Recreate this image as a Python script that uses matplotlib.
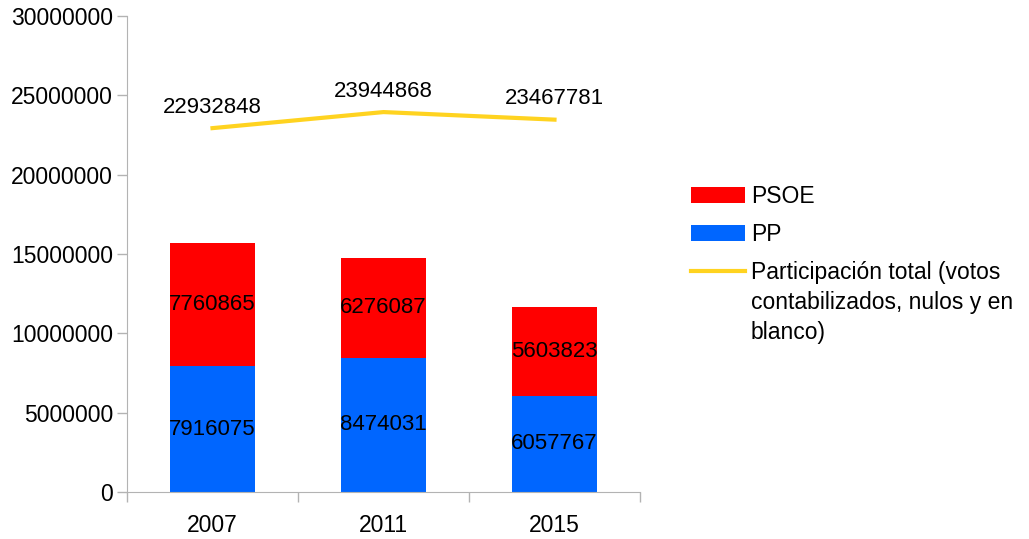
import matplotlib.pyplot as plt
from matplotlib.ticker import FuncFormatter

years = ['2007', '2011', '2015']
pp = [7916075, 8474031, 6057767]
psoe = [7760865, 6276087, 5603823]
participacion = [22932848, 23944868, 23467781]

plt.rcParams['font.family'] = ['Liberation Sans', 'DejaVu Sans']
plt.rcParams['font.size'] = 16

fig = plt.figure(figsize=(10.29, 5.39), dpi=100)
ax = fig.add_axes([127 / 1029, 47 / 539, 513 / 1029, 476 / 539])

x = range(len(years))
b_pp = ax.bar(x, pp, width=0.5, color='#0066ff', label='PP')
b_psoe = ax.bar(x, psoe, width=0.5, bottom=pp, color='#ff0000', label='PSOE')
line, = ax.plot(x, participacion, color='#ffd320', lw=3,
                label='Participación total (votos')

ax.bar_label(b_pp, labels=[str(v) for v in pp], label_type='center', fontsize=16)
ax.bar_label(b_psoe, labels=[str(v) for v in psoe], label_type='center', fontsize=16)
for xi, v in zip(x, participacion):
    ax.annotate(str(v), (xi, v), xytext=(0, 15), textcoords='offset points',
                ha='center', va='center', fontsize=16)

# Format axes
ax.set_xlim(-0.5, 2.5)
ax.set_ylim(0, 30000000)
ax.set_yticks(range(0, 30000001, 5000000))
ax.yaxis.set_major_formatter(FuncFormatter(lambda v, p: f'{int(v)}'))
ax.set_xticks(list(x))
ax.set_xticklabels(years)
ax.set_xticks([-0.5, 0.5, 1.5, 2.5], minor=True)
ax.tick_params(axis='x', which='major', length=0, pad=16, labelsize=16.5)
ax.tick_params(axis='x', which='minor', length=7, color='#b3b3b3', width=1)
ax.tick_params(axis='y', length=7, color='#b3b3b3', width=1, pad=3, labelsize=16.5)
for s in ['top', 'right']:
    ax.spines[s].set_visible(False)
for s in ['left', 'bottom']:
    ax.spines[s].set_color('#b3b3b3')

leg = fig.legend(handles=[b_psoe, b_pp, line], loc='upper left',
                 bbox_to_anchor=(680 / 1029, 1 - 174 / 539), frameon=False,
                 handlelength=2.35, handleheight=0.7, handletextpad=0.25,
                 labelspacing=0.64, borderpad=0, fontsize=16.5)

fig.canvas.draw()
bb = leg.get_texts()[2].get_window_extent()
cy = (bb.y0 + bb.y1) / 2
for i, t in enumerate(['contabilizados, nulos y en', 'blanco)']):
    fig.text(bb.x0 / 1029, (cy - 30 * (i + 1)) / 539, t,
             ha='left', va='center', fontsize=16.5)

fig.savefig('out.png', dpi=100)
